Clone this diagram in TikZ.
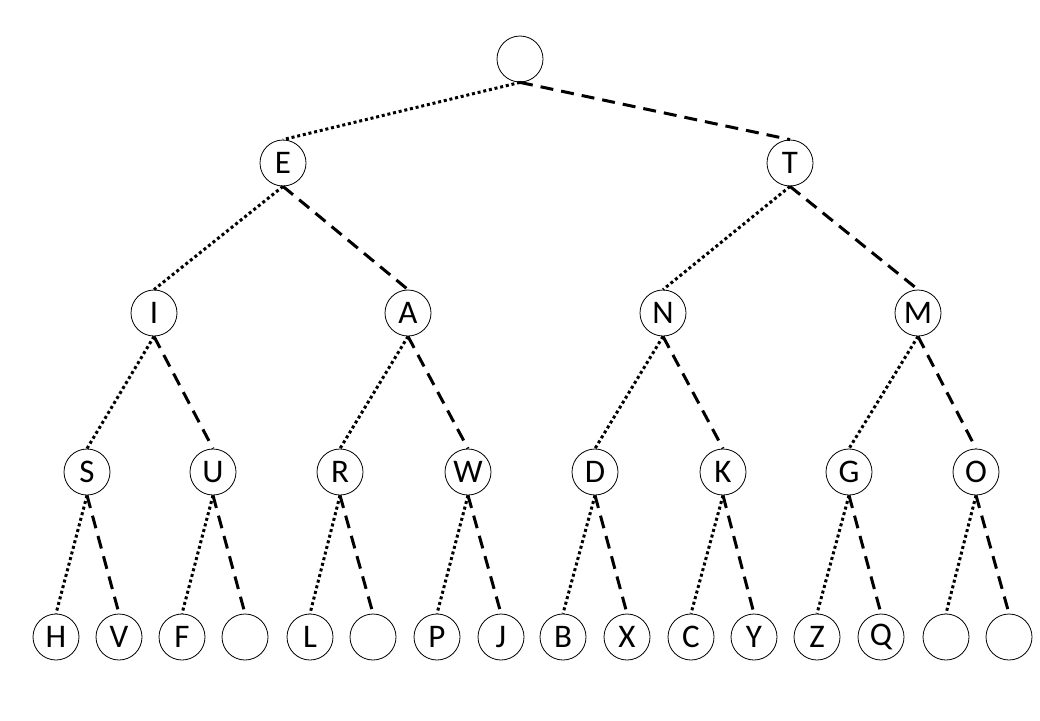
\documentclass[tikz,border=0pt]{standalone}
\usepackage{fontspec}
\setmainfont{Carlito}
\tikzset{
  nd/.style={circle, draw, line width=0.8pt, minimum size=46pt, inner sep=0pt, font=\fontsize{33}{33}\selectfont},
  ledge/.style={line width=3pt, dash pattern=on 3pt off 2.8pt},
  redge/.style={line width=3pt, dash pattern=on 13pt off 8pt}
}
\begin{document}
\begin{tikzpicture}[x=1pt, y=-1pt]
\useasboundingbox (0,0) rectangle (1040,720);
% level 0
\node[nd] (root) at (520,59) {};
% level 1
\node[nd] (E) at (283,163) {E};
\node[nd] (T) at (790,163) {T};
% level 2
\node[nd] (I) at (154,313) {I};
\node[nd] (A) at (408,313) {A};
\node[nd] (N) at (663,313) {N};
\node[nd] (M) at (918,313) {M};
% level 3
\node[nd] (S) at (87,472) {S};
\node[nd] (U) at (213,472) {U};
\node[nd] (R) at (340,472) {R};
\node[nd] (W) at (468,472) {W};
\node[nd] (D) at (595,472) {D};
\node[nd] (K) at (723,472) {K};
\node[nd] (G) at (849,472) {G};
\node[nd] (O) at (976,472) {O};
% level 4
\node[nd] (H) at (56,637) {H};
\node[nd] (V) at (119,637) {V};
\node[nd] (F) at (182,637) {F};
\node[nd] (e1) at (245,637) {};
\node[nd] (L) at (310,637) {L};
\node[nd] (e2) at (373,637) {};
\node[nd] (P) at (437,637) {P};
\node[nd] (J) at (501,637) {J};
\node[nd] (B) at (563,637) {B};
\node[nd] (X) at (627,637) {X};
\node[nd] (C) at (691,637) {C};
\node[nd] (Y) at (754,637) {Y};
\node[nd] (Z) at (817,637) {Z};
\node[nd] (Q) at (881,637) {Q};
\node[nd] (e3) at (946,637) {};
\node[nd] (e4) at (1009,637) {};
% edges
\foreach \p/\l/\r in {root/E/T, E/I/A, T/N/M, I/S/U, A/R/W, N/D/K, M/G/O,
  S/H/V, U/F/e1, R/L/e2, W/P/J, D/B/X, K/C/Y, G/Z/Q, O/e3/e4}{
  \draw[ledge] (\p.south) -- (\l.north);
  \draw[redge] (\p.south) -- (\r.north);
}
\end{tikzpicture}
\end{document}
